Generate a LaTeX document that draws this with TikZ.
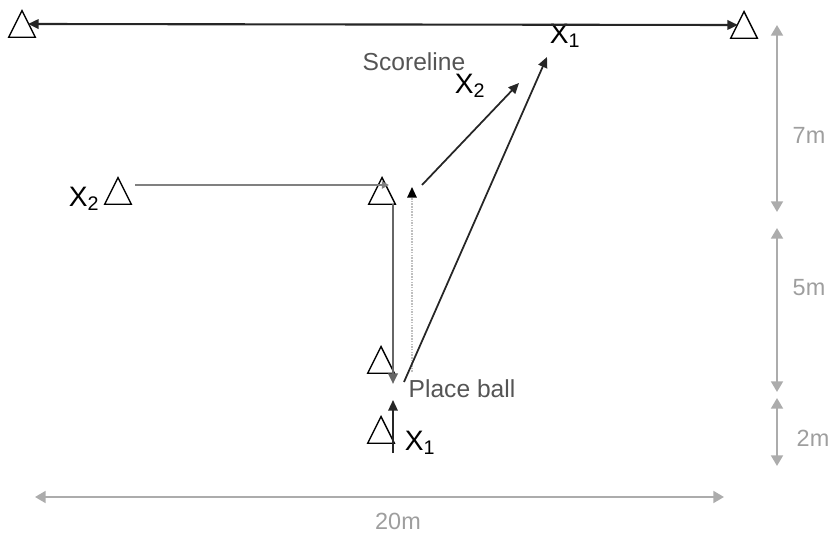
\documentclass[tikz,border=0pt]{standalone}
\usepackage{fontspec}
\setmainfont{Liberation Sans}
\usetikzlibrary{shapes.geometric,arrows.meta}
\definecolor{dimgrey}{RGB}{172,172,172}
\definecolor{notegrey}{RGB}{85,85,85}

\begin{document}
\begin{tikzpicture}[
  x=0.03cm, y=-0.03cm,
  cone/.style={isosceles triangle, isosceles triangle apex angle=53, isosceles triangle stretches,
    shape border rotate=90, draw=black, fill=white, line width=1.2pt, inner sep=0pt,
    minimum width=0.8cm, minimum height=0.8cm, anchor=apex},
  player/.style={font=\fontsize{24}{26}\selectfont, inner sep=0pt},
  note/.style={font=\fontsize{21}{23}\selectfont, text=notegrey, inner sep=0pt},
  dimtext/.style={font=\fontsize{20}{22}\selectfont, text=black!38, inner sep=0pt},
  lane/.style={{Triangle[length=9pt,width=8pt]}-{Triangle[length=9pt,width=8pt]}, black!85, line width=1.8pt},
  pass/.style={-{Triangle[length=9pt,width=8pt]}, black!85, line width=1.5pt},
  run/.style={-{Triangle[length=9pt,width=8pt]}, black!60, line width=2pt},
  sweep/.style={-{Triangle[length=6pt,width=6pt]}, black!50, line width=2.2pt},
  feed/.style={-{Triangle[length=9pt,width=8pt,color=black]}, black!25, densely dotted, line width=1.3pt},
  dim/.style={{Triangle[length=9pt,width=10pt]}-{Triangle[length=9pt,width=10pt]}, dimgrey, line width=2pt}]
\useasboundingbox (0,0) rectangle (833,534);

% cones
\node[cone] (tl) at (22,9) {};
\node[cone] (tr) at (744,10) {};
\node[cone] (wing) at (118,176) {};
\node[cone] (turn) at (382,176) {};
\node[cone] (ball) at (381,345) {};
\node[cone] (start) at (381,415) {};

% players and notes
\node[player] (p1top) at (565,36) {X\textsubscript{1}};
\node[note] (score) at (414,62) {Scoreline};
\node[player] (p2top) at (470,86) {X\textsubscript{2}};
\node[player] (p2) at (84,199) {X\textsubscript{2}};
\node[note] (place) at (462,389) {Place ball};
\node[player] (p1) at (420,443) {X\textsubscript{1}};

% free ends of the runs
\coordinate (p1end) at (547,57);
\coordinate (p2end) at (519,83);
\coordinate (cut) at (389,185);
\coordinate (drop) at (393,384);
\coordinate (pick) at (404,382);
\coordinate (feedtop) at (412,187);
\coordinate (feedlow) at (412,372);
\coordinate (runin) at (393,400);
\coordinate (runbase) at (393,453);

\draw[lane] ([shift={(6,15)}]tl.apex) -- ([shift={(-6,15)}]tr.apex);
\draw[sweep] ([shift={(17,9)}]wing.apex) -- (cut);
\draw[run] ([shift={(11,28)}]turn.apex) -- (drop);
\draw[feed] (feedlow) -- (feedtop);
\draw[pass] (feedtop) ++(10,-2) -- (p2end);
\draw[pass] (pick) -- (p1end);
\draw[pass] (runbase) -- (runin);

% measures
\coordinate (h0) at (777,25);
\coordinate (h1) at (777,212);
\coordinate (h2) at (777,228);
\coordinate (h3) at (777,392);
\coordinate (h4) at (777,398);
\coordinate (h5) at (777,466);
\coordinate (w0) at (35,497);
\coordinate (w1) at (724,497);
\draw[dim] (h0) -- (h1);
\draw[dim] (h2) -- (h3);
\draw[dim] (h4) -- (h5);
\draw[dim] (w0) -- (w1);
\node[dimtext] (d7) at (809,135) {7m};
\node[dimtext] (d5) at (809,288) {5m};
\node[dimtext] (d2) at (813,438) {2m};
\node[dimtext] (d20) at (398,521) {20m};
\end{tikzpicture}
\end{document}
